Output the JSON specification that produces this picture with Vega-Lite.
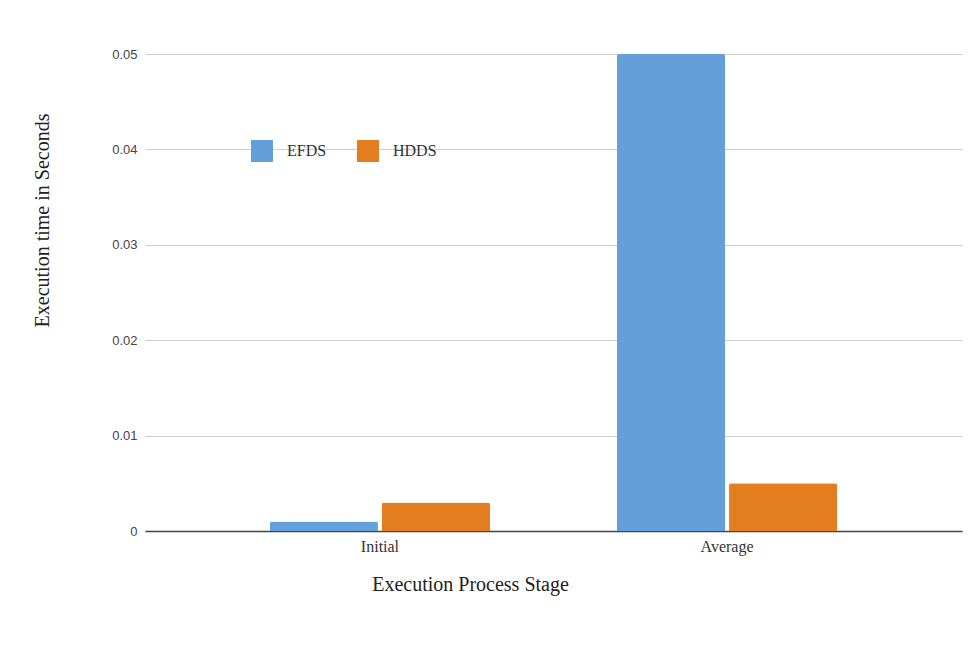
{
  "$schema": "https://vega.github.io/schema/vega-lite/v6.json",
  "width": 817,
  "height": 477,
  "autosize": {"type": "none"},
  "padding": {"left": 145, "top": 54, "right": 15, "bottom": 114},
  "background": "white",
  "data": {
    "values": [
      {"stage": "Initial", "scheme": "EFDS", "seconds": 0.001},
      {"stage": "Initial", "scheme": "HDDS", "seconds": 0.003},
      {"stage": "Average", "scheme": "EFDS", "seconds": 0.05},
      {"stage": "Average", "scheme": "HDDS", "seconds": 0.005}
    ]
  },
  "mark": {"type": "bar", "cornerRadiusTopLeft": 2, "cornerRadiusTopRight": 2},
  "encoding": {
    "x": {
      "field": "stage",
      "type": "nominal",
      "sort": null,
      "scale": {"paddingInner": 0.366, "paddingOuter": 0.36},
      "axis": {
        "title": "Execution Process Stage",
        "titleFont": "Liberation Serif",
        "titleFontSize": 20,
        "titleFontWeight": "normal",
        "titleColor": "#222",
        "titleX": 325,
        "titleY": 53,
        "titleAlign": "center",
        "titleBaseline": "middle",
        "labelAngle": 0,
        "labelFont": "Liberation Serif",
        "labelFontSize": 16,
        "labelColor": "#333",
        "labelPadding": 7,
        "ticks": false,
        "domainColor": "#444",
        "domainWidth": 1.5
      }
    },
    "xOffset": {
      "field": "scheme",
      "type": "nominal",
      "sort": ["EFDS", "HDDS"],
      "scale": {"paddingInner": 0.036, "paddingOuter": 0}
    },
    "y": {
      "field": "seconds",
      "type": "quantitative",
      "scale": {"domain": [0, 0.05], "nice": false},
      "axis": {
        "title": "Execution time in Seconds",
        "titleFont": "Liberation Serif",
        "titleFontSize": 20,
        "titleFontWeight": "normal",
        "titleColor": "#222",
        "titleAngle": -90,
        "titleX": -103,
        "titleY": 166,
        "titleAlign": "center",
        "titleBaseline": "middle",
        "values": [0, 0.01, 0.02, 0.03, 0.04, 0.05],
        "format": "~g",
        "labelFont": "Liberation Sans",
        "labelFontSize": 13,
        "labelColor": "#444",
        "labelPadding": 8,
        "ticks": false,
        "domain": false,
        "grid": true,
        "gridColor": "#cfcfcf",
        "gridWidth": 1
      }
    },
    "color": {
      "field": "scheme",
      "type": "nominal",
      "sort": ["EFDS", "HDDS"],
      "scale": {"domain": ["EFDS", "HDDS"], "range": ["#659fd9", "#e37d20"]},
      "legend": {
        "title": null,
        "orient": "none",
        "direction": "horizontal",
        "legendX": 106,
        "legendY": 86,
        "symbolType": "square",
        "symbolSize": 484,
        "symbolStrokeWidth": 0,
        "symbolOpacity": 1,
        "labelFont": "Liberation Serif",
        "labelFontSize": 16,
        "labelColor": "#333",
        "labelOffset": 14,
        "columnPadding": 30
      }
    }
  },
  "config": {
    "view": {"stroke": null}
  }
}
